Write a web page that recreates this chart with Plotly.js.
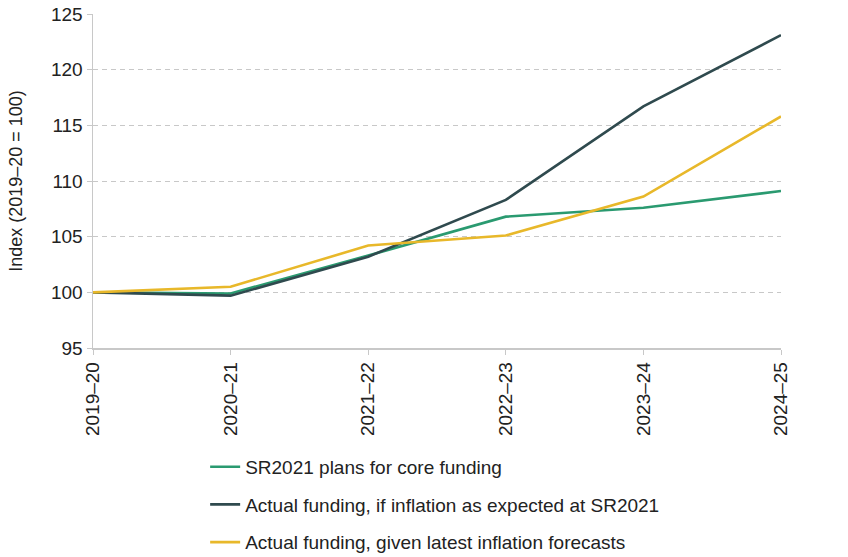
<!DOCTYPE html>
<html>
<head>
<meta charset="utf-8">
<script src="https://cdn.plot.ly/plotly-3.0.1.min.js"></script>
<style>
  html, body { margin: 0; padding: 0; background: #fff; }
  #plotly_area { width: 848px; height: 557px; }
</style>
</head>
<body>
<div id="plotly_area"></div>
<script>
const years = ['2019–20', '2020–21', '2021–22', '2022–23', '2023–24', '2024–25'];
const sr2021Plans = [100, 99.9, 103.3, 106.8, 107.6, 109.1];
const actualExpected = [100, 99.7, 103.2, 108.3, 116.7, 123.1];
const actualLatest = [100, 100.5, 104.2, 105.1, 108.6, 115.8];
const yTicks = [95, 100, 105, 110, 115, 120, 125];

const names = [
    'SR2021 plans for core funding',
    'Actual funding, if inflation as expected at SR2021',
    'Actual funding, given latest inflation forecasts',
];
const colors = ['#2A9A70', '#2F4A4E', '#E8B82A'];
const series = [sr2021Plans, actualExpected, actualLatest];

const data = series.map((ys, i) => ({
    x: years,
    y: ys,
    name: names[i],
    legendgroup: 'g' + i,
    mode: 'lines',
    line: { color: colors[i], width: 2.6 },
    hoverinfo: 'skip',
}));

const layout = {
    width: 848,
    height: 557,
    margin: { t: 14, l: 93, r: 67, b: 209 },
    paper_bgcolor: '#ffffff',
    plot_bgcolor: '#ffffff',
    font: { family: 'Liberation Sans, Arial, sans-serif', size: 19, color: '#222' },
    showlegend: true,
    legend: {
        orientation: 'v',
        x: 0.163,
        xanchor: 'left',
        yref: 'container',
        y: 0.196,
        yanchor: 'top',
        traceorder: 'grouped',
        tracegroupgap: 10,
        font: { size: 19, color: '#222' },
    },
    xaxis: {
        type: 'category',
        range: [0, 5],
        tickangle: -90,
        showgrid: false,
        zeroline: false,
        showline: true,
        linecolor: '#c8c8c8',
        linewidth: 1.5,
        ticks: 'outside',
        ticklen: 5,
        tickcolor: '#c8c8c8',
        tickfont: { size: 19, color: '#222' },
        automargin: false,
    },
    yaxis: {
        title: { text: 'Index (2019–20 = 100)', font: { size: 18, color: '#222' }, standoff: 23 },
        range: [95, 125],
        tickmode: 'array',
        tickvals: yTicks,
        showgrid: true,
        gridcolor: '#c8c8c8',
        griddash: '5px,4px',
        gridwidth: 1,
        zeroline: false,
        showline: true,
        linecolor: '#c8c8c8',
        linewidth: 1.5,
        ticks: 'outside',
        ticklen: 5,
        tickcolor: '#c8c8c8',
        tickfont: { size: 19, color: '#222' },
        automargin: false,
    },
};
const config = { staticPlot: true };
Plotly.newPlot('plotly_area', data, layout, config);
</script>
</body>
</html>
